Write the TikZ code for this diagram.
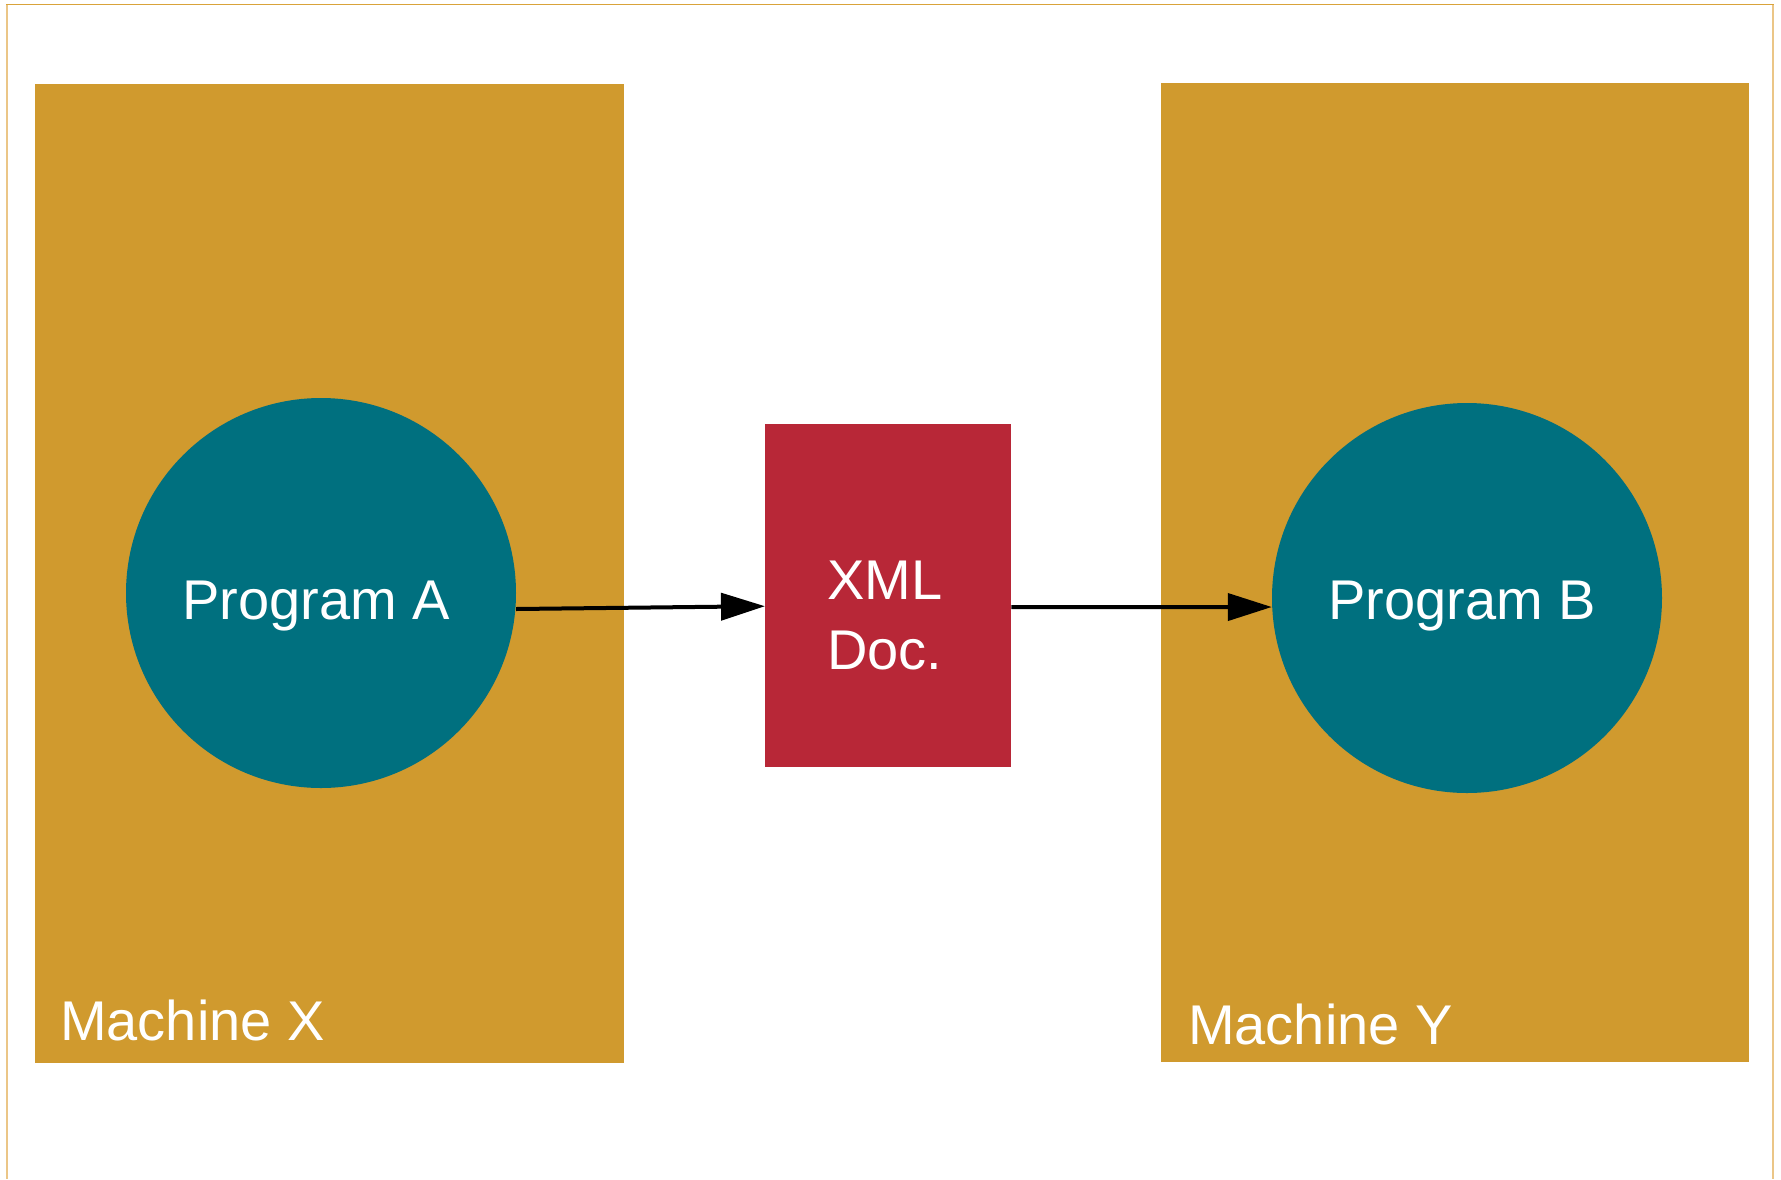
\documentclass[tikz,border=0pt]{standalone}
\usepackage{fontspec}
\setmainfont{Liberation Sans}
\usetikzlibrary{arrows.meta}
\definecolor{gold}{HTML}{D09A2E}
\definecolor{teal}{HTML}{00707F}
\definecolor{docred}{HTML}{B82737}
\definecolor{frametop}{HTML}{D9A33A}
\definecolor{frameside}{HTML}{EBC687}
\tikzset{
  machine/.style={fill=gold, draw=none, inner sep=0pt, anchor=north west},
  prog/.style={circle, fill=teal, draw=none, inner sep=0pt, minimum size=390pt},
  docbox/.style={fill=docred, draw=none, inner sep=0pt, anchor=north west},
  lbl/.style={text=white, inner sep=0pt, font=\fontsize{56}{70}\selectfont},
  arr/.style={line width=4pt, -{Triangle[length=44pt,width=27pt]}}
}
\begin{document}
\begin{tikzpicture}[x=1pt,y=-1pt]
\useasboundingbox (0,0) rectangle (1781,1179);
\fill[white] (0,0) rectangle (1781,1179);
% outer frame
\draw[frameside, line width=1.5pt] (7,4.5) -- (7,1179);
\draw[frameside, line width=1.5pt] (1773,4.5) -- (1773,1179);
\draw[frametop, line width=1.5pt] (6.3,4.5) -- (1773.7,4.5);
% machines
\node[machine, minimum width=589pt, minimum height=979pt] (mx) at (35,84) {};
\node[machine, minimum width=588pt, minimum height=979pt] (my) at (1161,83) {};
\node[lbl, anchor=base west] (mxl) at (60,1040) {Machine X};
\node[lbl, anchor=base west] (myl) at (1188,1044) {Machine Y};
% programs
\node[prog] (pa) at (321,593) {};
\node[prog] (pb) at (1467,598) {};
\node[lbl, anchor=base west] (pal) at (182,619) {Program A};
\node[lbl, anchor=base west] (pbl) at (1328,619) {Program B};
% xml doc
\node[docbox, minimum width=246pt, minimum height=343pt] (xml) at (765,424) {};
\node[lbl, anchor=base west] (xml1) at (827,599) {XML};
\node[lbl, anchor=base west] (xml2) at (827,669) {Doc.};
% arrows
\draw[arr] ([yshift=-16pt]pa.east) -- ([yshift=-10.5pt]xml.west);
\draw[arr] ([yshift=-11.5pt]xml.east) -- ([yshift=-9pt]pb.west);
\end{tikzpicture}
\end{document}
